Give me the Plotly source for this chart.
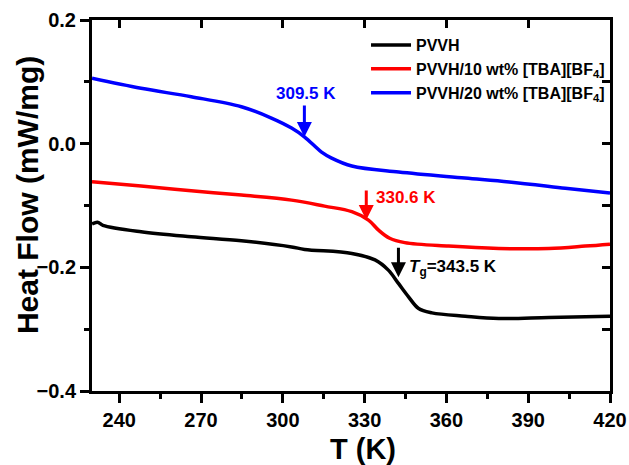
import plotly.graph_objects as go

# Data (T in K, heat flow in mW/mg)
t_blue = [230.0, 248.0, 266.4, 284.8, 295.8, 303.2, 308.0, 314.2, 317.9, 325.3, 342.5, 366.8, 383.0, 403.6, 420.0]
hf_blue = [0.1057, 0.0895, 0.0759, 0.0597, 0.0414, 0.0252, 0.0107, -0.0136, -0.0233, -0.0362, -0.046, -0.0557, -0.062, -0.072, -0.080]

t_red = [230.0, 248.0, 266.4, 284.8, 303.2, 315.3, 325.3, 331.4, 335.1, 339.2, 344.7, 360.8, 379.2, 397.6, 410.9, 420.0]
hf_red = [-0.0616, -0.0686, -0.0762, -0.0832, -0.0913, -0.101, -0.110, -0.1236, -0.1398, -0.153, -0.160, -0.1657, -0.1695, -0.1695, -0.1657, -0.1625]

t_black = [230.0, 232.0, 234.0, 248.0, 266.4, 284.8, 303.2, 308.0, 325.3, 333.8, 338.7, 342.4, 346.1, 349.8, 354.7, 366.9, 379.2, 397.6, 420.0]
hf_black = [-0.130, -0.127, -0.132, -0.1425, -0.1506, -0.157, -0.167, -0.171, -0.1775, -0.188, -0.2045, -0.226, -0.2477, -0.2666, -0.2736, -0.279, -0.2827, -0.281, -0.279]

names = ["PVVH", "PVVH/10 wt% [TBA][BF<sub>4</sub>]", "PVVH/20 wt% [TBA][BF<sub>4</sub>]"]
colors = ["#000000", "#FF0000", "#0000FF"]

# Glass transition markers: (arrow T, heat flow at arrow tip, label)
tg_blue = (307.9, 0.0107, "309.5 K")
tg_red = (330.6, -0.1236, "330.6 K")
tg_black = (342.4, -0.216, "<i>T</i><sub>g</sub>=343.5 K")

x_ticks = [240, 270, 300, 330, 360, 390, 420]
x_minor = [255, 285, 315, 345, 375, 405]
y_ticks = [-0.4, -0.2, 0.0, 0.2]
y_minor = [-0.3, -0.1, 0.1]

x_title = "T (K)"
y_title = "Heat Flow (mW/mg)"

FONT = "Liberation Sans, Arial, sans-serif"
XR = [230, 420]
YR = [-0.4, 0.2]

fig = go.Figure()
for t, hf, n, c in [(t_black, hf_black, names[0], colors[0]),
                    (t_red, hf_red, names[1], colors[1]),
                    (t_blue, hf_blue, names[2], colors[2])]:
    fig.add_trace(go.Scatter(x=t, y=hf, mode="lines", name=n,
                             line=dict(color=c, width=3.5, shape="spline", smoothing=1.0)))

# invisible trace for the mirrored top/right axes with inward ticks
fig.add_trace(go.Scatter(x=[300], y=[0], xaxis="x2", yaxis="y2", mode="markers",
                         marker=dict(opacity=0), showlegend=False, hoverinfo="skip"))

def arrow(tg, color, ay):
    fig.add_annotation(x=tg[0], y=tg[1], ax=0, ay=ay, xref="x", yref="y",
                       showarrow=True, arrowhead=2, arrowsize=1.0, arrowwidth=3,
                       arrowcolor=color, text="")

arrow(tg_blue, "#0000FF", -33)
arrow(tg_red, "#FF0000", -31)
arrow(tg_black, "#000000", -31)

fig.add_annotation(x=tg_blue[0], y=tg_blue[1], xref="x", yref="y", text="<b>%s</b>" % tg_blue[2],
                   showarrow=False, yshift=44, xshift=2,
                   font=dict(family=FONT, size=17, color="#0000FF"))
fig.add_annotation(x=tg_red[0], y=tg_red[1], xref="x", yref="y", text="<b>%s</b>" % tg_red[2],
                   showarrow=False, xanchor="left", yshift=23, xshift=8,
                   font=dict(family=FONT, size=17, color="#FF0000"))
fig.add_annotation(x=tg_black[0], y=tg_black[1], xref="x", yref="y", text="<b>%s</b>" % tg_black[2],
                   showarrow=False, xanchor="left", yshift=9, xshift=9,
                   font=dict(family=FONT, size=17, color="#000000"))

# axis titles
fig.add_annotation(x=0.523, y=0, xref="paper", yref="paper", text="<b>%s</b>" % x_title,
                   showarrow=False, xanchor="center", yanchor="middle", yshift=-58,
                   font=dict(family=FONT, size=29, color="black"))
fig.add_annotation(x=0, y=0.528, xref="paper", yref="paper", text="<b>%s</b>" % y_title,
                   showarrow=False, xanchor="center", yanchor="middle", xshift=-65, textangle=-90,
                   font=dict(family=FONT, size=30, color="black"))

axis_common = dict(showline=True, linecolor="black", linewidth=3, showgrid=False,
                   zeroline=False, ticks="outside", ticklen=9, tickwidth=3, tickcolor="black",
                   automargin=False,
                   tickfont=dict(family=FONT, size=20, color="black", weight="bold"))

fig.update_layout(
    width=629, height=465,
    margin=dict(l=92, r=19, t=20, b=74),
    paper_bgcolor="white", plot_bgcolor="white",
    font=dict(family=FONT, color="black"),
    xaxis=dict(range=XR, tickvals=x_ticks,
               minor=dict(ticks="outside", ticklen=5, tickwidth=3, tickcolor="black",
                          tickvals=x_minor),
               **axis_common),
    yaxis=dict(range=YR, tickvals=y_ticks, tickformat=".1f",
               minor=dict(ticks="outside", ticklen=5, tickwidth=3, tickcolor="black",
                          tickvals=y_minor),
               **axis_common),
    xaxis2=dict(range=XR, overlaying="x", side="top", anchor="y2",
                showline=True, linecolor="black", linewidth=3, showgrid=False, zeroline=False,
                ticks="inside", ticklen=8, tickwidth=3, tickcolor="black", showticklabels=False,
                tickvals=x_ticks),
    yaxis2=dict(range=YR, overlaying="y", side="right", anchor="x2",
                showline=True, linecolor="black", linewidth=3, showgrid=False, zeroline=False,
                ticks="inside", ticklen=8, tickwidth=3, tickcolor="black", showticklabels=False,
                tickvals=sorted(y_ticks + y_minor)),
    legend=dict(x=0.529, y=0.978, xanchor="left", yanchor="top", bgcolor="rgba(0,0,0,0)",
                font=dict(family=FONT, size=16, color="black", weight="bold"),
                tracegroupgap=0, itemwidth=40),
    showlegend=True,
)

fig.write_html("out.html")
